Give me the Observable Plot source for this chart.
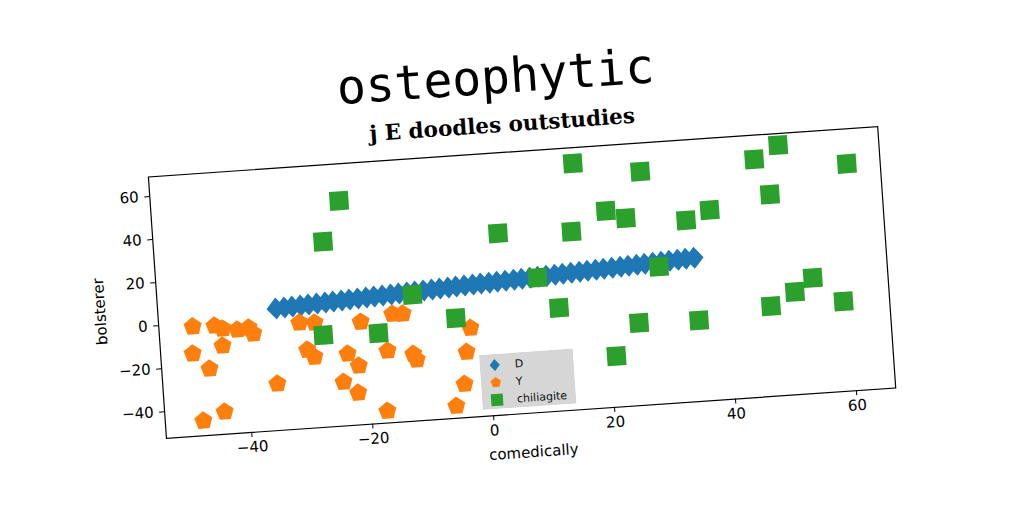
<!DOCTYPE html>
<html><head><meta charset="utf-8">
<script src="https://cdn.jsdelivr.net/npm/d3@7"></script>
<script src="https://cdn.jsdelivr.net/npm/@observablehq/plot@0.6"></script>
<style>
html,body{margin:0;padding:0;background:#fff;width:1024px;height:512px;overflow:hidden;}
#rot{position:absolute;left:0;top:0;width:1024px;height:512px;transform-origin:521.25px 281.5px;transform:rotate(-3.95deg);}
#title{position:absolute;left:9.5px;width:1000px;top:51px;text-align:center;font-family:"DejaVu Sans Mono",monospace;font-size:48px;line-height:48px;color:#000;white-space:nowrap;}
#subtitle{position:absolute;left:13px;width:1000px;top:113px;text-align:center;font-family:"DejaVu Serif",serif;font-weight:bold;font-size:21.5px;line-height:22px;color:#000;white-space:nowrap;}
#chart{position:absolute;left:80.75px;top:130.5px;}
#legend{position:absolute;left:474px;top:352px;}
</style></head>
<body>
<div id="rot">
  <div id="title"></div>
  <div id="subtitle"></div>
  <div id="chart"></div>
  <div id="legend"></div>
</div>
<script>
const titleText = "osteophytic";
const subtitleText = "j E doodles outstudies";
const xLabel = "comedically";
const yLabel = "bolsterer";
const seriesNames = ["D", "Y", "chiliagite"];
const seriesColors = ["#1f77b4", "#ff7f0e", "#2ca02c"];
const xTicks = [-40, -20, 0, 20, 40, 60];
const yTicks = [-40, -20, 0, 20, 40, 60];
const xDomain = [-54.1, 66.5];
const yDomain = [-52.3, 69.1];

// series "D"
const dX = [-34.6,-33.2,-31.9,-30.5,-29.2,-27.8,-26.4,-25.1,-23.7,-22.4,-21.0,-19.6,-18.3,-16.9,-15.5,-14.2,-12.8,-11.5,-10.1,-8.7,-7.4,-6.0,-4.7,-3.3,-1.9,-0.6,0.8,2.1,3.5,4.9,6.2,7.6,8.9,10.3,11.7,13.0,14.4,15.8,17.1,18.5,19.8,21.2,22.6,23.9,25.3,26.6,28.0,29.4,30.7,32.1,33.4,34.8];
const dY = [4.2,4.4,4.6,4.8,5.0,5.2,5.4,5.6,5.8,6.0,6.2,6.4,6.6,6.8,7.0,7.2,7.4,7.6,7.8,8.0,8.2,8.4,8.6,8.8,9.0,9.2,9.3,9.5,9.7,9.9,10.1,10.3,10.5,10.7,10.9,11.1,11.3,11.5,11.7,11.9,12.1,12.3,12.5,12.7,12.9,13.1,13.3,13.5,13.7,13.9,14.1,14.3];
// series "Y"
const yX = [-48.5,-44.9,-43.6,-41.2,-39.3,-38.6,-48.8,-43.8,-46.2,-35.2,-44.2,-47.8,-30.9,-28.4,-29.9,-28.8,-24.3,-21.6,-22.0,-23.3,-20.8,-15.5,-13.8,-16.7,-12.5,-12.0,-17.4,-3.7,-2.8,-4.4,-6.0];
const yY = [-1.5,-1.8,-3.4,-4.4,-3.8,-6.7,-14.0,-11.3,-21.5,-30.6,-41.9,-45.4,-3.1,-3.6,-15.9,-19.4,-31.9,-24.9,-37.4,-19.0,-4.7,-2.0,-2.3,-18.9,-21.2,-24.0,-46.7,-22.0,-11.0,-36.7,-46.6];
// series "chiliagite"
const cX = [-23.0,-26.1,2.8,15.9,26.9,45.8,49.9,61.0,48.0,20.8,24.0,33.9,37.9,14.9,28.9,8.8,-12.0,12.0,25.0,34.9,46.9,51.0,54.1,58.9,20.9,-5.1,-18.0,-27.1];
const cY = [52.0,33.6,31.9,61.8,55.9,57.9,63.7,52.9,41.2,38.8,34.8,31.9,35.9,30.3,11.3,10.1,6.2,-4.5,-14.0,-14.8,-10.5,-4.7,1.2,-10.6,-28.7,-6.0,-10.5,-9.6];

// marker shapes (size = pi r^2)
const diamondSym = {draw(ctx, size){ const r = Math.sqrt(size/Math.PI); const w = r*0.86;
  ctx.moveTo(0,-r); ctx.lineTo(w,0); ctx.lineTo(0,r); ctx.lineTo(-w,0); ctx.closePath(); }};
const pentagonSym = {draw(ctx, size){ const r = Math.sqrt(size/Math.PI);
  for (let k=0;k<5;k++){ const a = -Math.PI/2 + k*2*Math.PI/5; const px=r*Math.cos(a), py=r*Math.sin(a);
    if(k===0) ctx.moveTo(px,py); else ctx.lineTo(px,py);} ctx.closePath(); }};
const squareSym = {draw(ctx, size){ const r = Math.sqrt(size/Math.PI);
  ctx.moveTo(-r,-r); ctx.lineTo(r,-r); ctx.lineTo(r,r); ctx.lineTo(-r,r); ctx.closePath(); }};
const symbols = [diamondSym, pentagonSym, squareSym];
const sizes = [11, 9.5, 9.5];

const rows = (xs, ys) => xs.map((x,i) => ({x, y: ys[i]}));
const series = [rows(dX,dY), rows(yX,yY), rows(cX,cY)];

document.getElementById("title").textContent = titleText;
document.getElementById("subtitle").textContent = subtitleText;

const minus = d => d < 0 ? "\u2212" + Math.abs(d) : String(d);
const mL = 75, mT = 20, mR = 20, mB = 50;
const plot = Plot.plot({
  width: mL + 731 + mR,
  height: mT + 262 + mB,
  marginLeft: mL, marginTop: mT, marginRight: mR, marginBottom: mB,
  style: {fontFamily: "DejaVu Sans", fontSize: "15px", color: "#000", background: "transparent"},
  x: {domain: xDomain},
  y: {domain: yDomain},
  marks: [
    ...series.map((data, i) => Plot.dot(data, {x: "x", y: "y", r: sizes[i], symbol: symbols[i], fill: seriesColors[i]})),
    Plot.frame({stroke: "#000", strokeWidth: 1.2}),
    Plot.axisX({ticks: xTicks, tickFormat: minus, tickSize: 5, tickPadding: 4, label: xLabel, labelAnchor: "center", labelOffset: 44, labelArrow: "none"}),
    Plot.axisY({ticks: yTicks, tickFormat: minus, tickSize: 5, tickPadding: 6, label: yLabel, labelAnchor: "center", labelOffset: 63, labelArrow: "none"})
  ]
});
document.getElementById("chart").appendChild(plot);

// legend
const LW = 94, LH = 55;
const leg = d3.create("svg").attr("width", LW).attr("height", LH);
leg.append("rect").attr("width", LW).attr("height", LH).attr("fill", "#d6d6d6");
const legR = [6, 5.5, 6];
seriesNames.forEach((name, i) => {
  const cy = 11 + i*17.5;
  leg.append("path").attr("transform", `translate(15,${cy})`)
    .attr("d", d3.symbol(symbols[i], Math.PI*legR[i]*legR[i])())
    .attr("fill", seriesColors[i]);
  leg.append("text").attr("x", 35).attr("y", cy).attr("dy", "0.35em")
    .attr("font-family", "DejaVu Sans").attr("font-size", 11).attr("fill", "#111").text(name);
});
document.getElementById("legend").appendChild(leg.node());
</script>
</body></html>
